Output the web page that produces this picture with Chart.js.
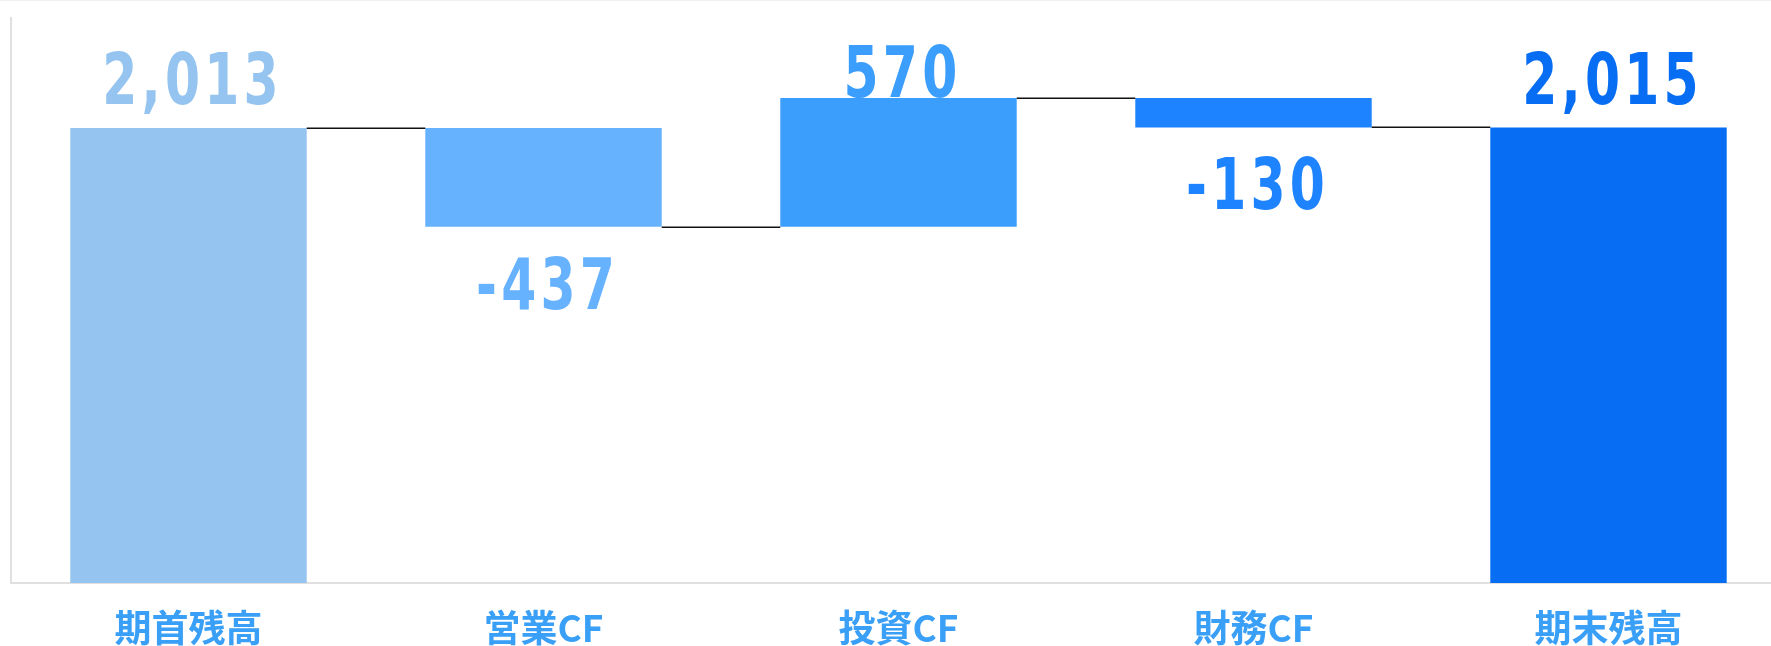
<!DOCTYPE html>
<html lang="ja">
<head>
<meta charset="utf-8">
<title>キャッシュフロー</title>
<script src="https://cdn.jsdelivr.net/npm/chart.js@4.4.1/dist/chart.umd.min.js"></script>
<style>
  html,body{margin:0;padding:0;background:#fff;overflow:hidden}
  .wrap{position:relative;width:1771px;height:646px;overflow:hidden}
  .wrap .topline{position:absolute;left:0;top:0;width:100%;height:1px;background:#f2f2f2}
  canvas{display:block}
</style>
</head>
<body>
<div class="wrap">
  <canvas id="wf" width="1786" height="646"></canvas>
  <div class="topline"></div>
</div>
<script>
/* ===== Dados ===== */
const categories = ['期首残高', '営業CF', '投資CF', '財務CF', '期末残高'];
const amounts    = [2013, -437, 570, -130, 2015];
const isTotal    = [true, false, false, false, true];
const barColors  = ['#94c4ef', '#66b2fe', '#3b9efc', '#1e83fe', '#076ef3'];
const yMax = 2500;

/* ===== Util ===== */
const fmt = (n)=> Number(n).toLocaleString('en-US');
const NUM_FONT = 'bold 72px "DejaVu Sans", sans-serif';
const SQUEEZE  = 0.70; // fonte condensada (não há DIN condensed)

// faixas flutuantes [início, fim]
let running = 0;
const ranges = amounts.map((v,i)=>{
  if (isTotal[i]){ running = v; return [0, v]; }
  const from = running;
  running += v;
  return [from, running];
});

/* ===== Plugins ===== */
const connectors = {
  id:'connectors',
  afterDatasetsDraw(chart){
    const {ctx, scales:{y}} = chart;
    const bars = chart.getDatasetMeta(0).data;
    ctx.save();
    ctx.strokeStyle = '#111';
    ctx.lineWidth = 1.5;
    for (let i=0; i<bars.length-1; i++){
      const a = bars[i], b = bars[i+1];
      const yy = Math.round(y.getPixelForValue(ranges[i][1])) + 0.25;
      ctx.beginPath();
      ctx.moveTo(a.x + a.width/2, yy);
      ctx.lineTo(b.x - b.width/2, yy);
      ctx.stroke();
    }
    ctx.restore();
  }
};

const valueLabels = {
  id:'valueLabels',
  afterDatasetsDraw(chart){
    const {ctx, scales:{y}} = chart;
    const bars = chart.getDatasetMeta(0).data;
    bars.forEach((bar,i)=>{
      const v = amounts[i];
      const [from,to] = ranges[i];
      let base;
      if (v >= 0){
        const top = y.getPixelForValue(Math.max(from,to));
        base = Math.max(top - 24, 97);
      } else {
        const bottom = y.getPixelForValue(Math.min(from,to));
        base = bottom + 30 + 52;
      }
      ctx.save();
      ctx.translate(bar.x + 4, base);
      ctx.scale(SQUEEZE, 1);
      ctx.font = NUM_FONT;
      ctx.letterSpacing = '6px';
      ctx.textAlign = 'center';
      ctx.textBaseline = 'alphabetic';
      ctx.fillStyle = barColors[i];
      ctx.fillText(fmt(v), 0, 0);
      ctx.restore();
    });
  }
};

/* ===== Gráfico ===== */
new Chart(document.getElementById('wf').getContext('2d'), {
  type:'bar',
  data:{
    labels: categories,
    datasets:[{
      data: ranges,
      backgroundColor: barColors,
      borderWidth: 0,
      borderSkipped: false,
      categoryPercentage: 1,
      barPercentage: 0.666
    }]
  },
  options:{
    responsive:false,
    animation:false,
    devicePixelRatio:1,
    layout:{ padding:{ left:11, top:18, right:0, bottom:0 } },
    plugins:{ legend:{display:false}, tooltip:{enabled:false} },
    scales:{
      x:{
        grid:{ display:false, drawTicks:false },
        border:{ display:true, color:'#e0e0e0', width:2 },
        ticks:{
          color:'#3a9ff6',
          padding:26,
          font:{ family:'"Noto Sans CJK JP", "Noto Sans", sans-serif', size:37, weight:'bold', lineHeight:1 }
        },
        afterFit(scale){ scale.height = 63; }
      },
      y:{
        min:0, max:yMax,
        grid:{ display:false, drawTicks:false },
        border:{ display:true, color:'#e0e0e0', width:2 },
        ticks:{ display:false },
        afterFit(scale){ scale.width = 0; }
      }
    }
  },
  plugins:[connectors, valueLabels]
});
</script>
</body>
</html>
